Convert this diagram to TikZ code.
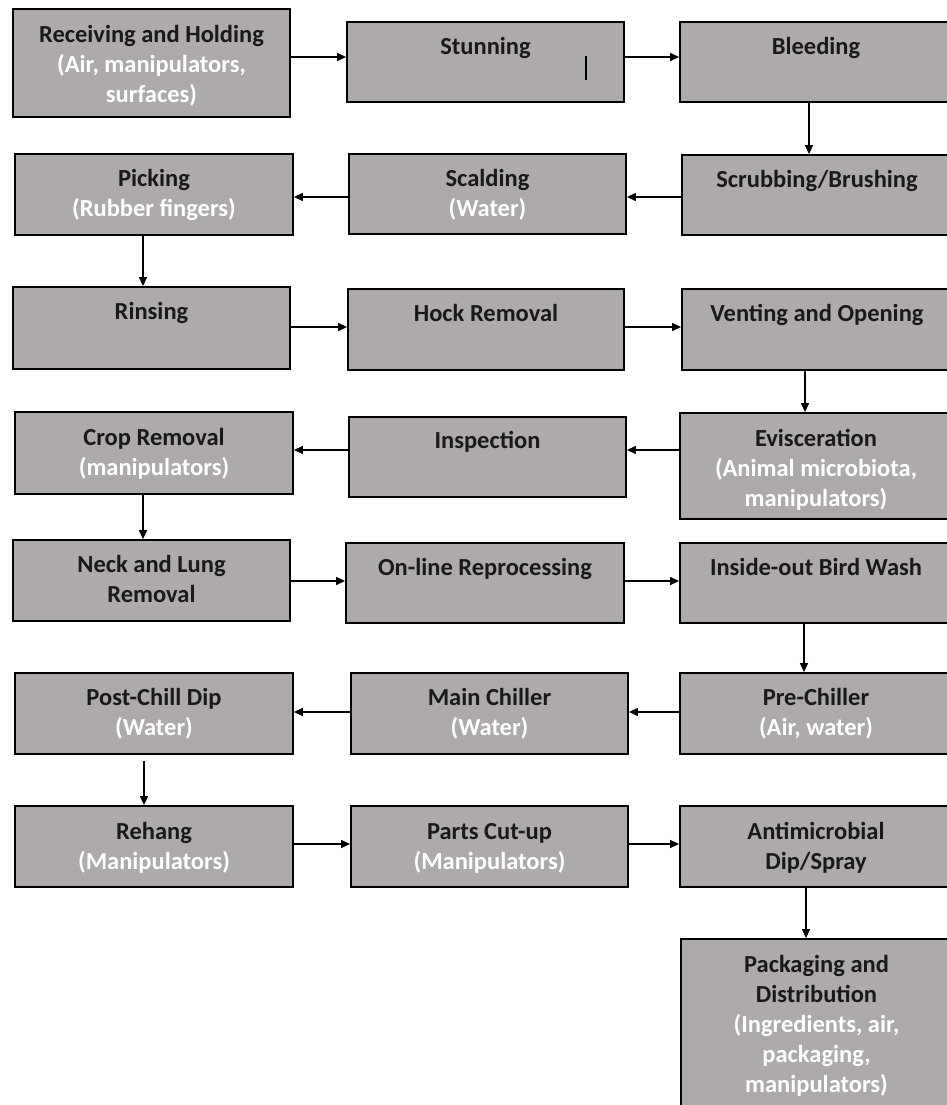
\documentclass[tikz,border=0pt]{standalone}
\usepackage{fontspec}
\setmainfont{Carlito}
\usetikzlibrary{arrows.meta,fit}
\definecolor{boxgray}{RGB}{173,170,169}
\newcommand\wh[1]{\textcolor{white}{#1}}
\begin{document}
\begin{tikzpicture}[x=1pt,y=-1pt,
 stepbox/.style={draw=black, line width=1.8pt, fill=boxgray, inner sep=0pt},
 txt/.style={anchor=base, align=center, font=\fontsize{24.5}{30}\selectfont\bfseries, text=black!90, inner sep=0pt},
 arr/.style={line width=1.3pt, -{Triangle[length=9pt,width=8pt]}}]
\clip (0,0) rectangle (947,1105);
\fill[white] (0,0) rectangle (947,1105);
% row 1
\node[stepbox, fit={(13,9) (290,117)}] (recv) {};
\node[stepbox, fit={(347,22) (624,102)}] (stun) {};
\node[stepbox, fit={(680,22) (952,102)}] (bleed) {};
% row 2
\node[stepbox, fit={(15,154) (293,235)}] (pick) {};
\node[stepbox, fit={(349,154) (626,234)}] (scald) {};
\node[stepbox, fit={(682,155) (952,235)}] (scrub) {};
% row 3
\node[stepbox, fit={(13,287) (290,369)}] (rinse) {};
\node[stepbox, fit={(348,289) (624,370)}] (hock) {};
\node[stepbox, fit={(682,289) (952,370)}] (vent) {};
% row 4
\node[stepbox, fit={(15,412) (293,494)}] (crop) {};
\node[stepbox, fit={(349,417) (626,497)}] (insp) {};
\node[stepbox, fit={(680,413) (952,519)}] (evis) {};
% row 5
\node[stepbox, fit={(13,540) (290,621)}] (neck) {};
\node[stepbox, fit={(346,543) (624,623)}] (online) {};
\node[stepbox, fit={(680,543) (952,623)}] (wash) {};
% row 6
\node[stepbox, fit={(15,673) (293,754)}] (post) {};
\node[stepbox, fit={(351,673) (628,754)}] (main) {};
\node[stepbox, fit={(680,673) (952,754)}] (pre) {};
% row 7
\node[stepbox, fit={(15,806) (293,887)}] (rehang) {};
\node[stepbox, fit={(351,806) (628,887)}] (parts) {};
\node[stepbox, fit={(680,806) (952,887)}] (anti) {};
% row 8
\node[stepbox, fit={(681,939) (952,1130)}] (pack) {};
% stray mark in Stunning box
\draw[line width=1.3pt] (586,56) -- (586,80);
% texts (anchor=base is the baseline of the last line)
\node[txt] (recvT) at ([yshift=-94pt]recv.north) {Receiving and Holding\\\wh{(Air, manipulators,}\\\wh{surfaces)}};
\node[txt] (stunT) at ([yshift=-33pt]stun.north) {Stunning};
\node[txt] (bleedT) at ([yshift=-33pt]bleed.north) {Bleeding};
\node[txt] (pickT) at ([yshift=-63pt]pick.north) {Picking\\\wh{(Rubber fingers)}};
\node[txt] (scaldT) at ([yshift=-63pt]scald.north) {Scalding\\\wh{(Water)}};
\node[txt] (scrubT) at ([yshift=-33pt]scrub.north) {Scrubbing/Brushing};
\node[txt] (rinseT) at ([yshift=-33pt]rinse.north) {Rinsing};
\node[txt] (hockT) at ([yshift=-33pt]hock.north) {Hock Removal};
\node[txt] (ventT) at ([yshift=-33pt]vent.north) {Venting and Opening};
\node[txt] (cropT) at ([yshift=-64pt]crop.north) {Crop Removal\\\wh{(manipulators)}};
\node[txt] (inspT) at ([yshift=-32pt]insp.north) {Inspection};
\node[txt] (evisT) at ([yshift=-94pt]evis.north) {Evisceration\\\wh{(Animal microbiota,}\\\wh{manipulators)}};
\node[txt] (neckT) at ([yshift=-63pt]neck.north) {Neck and Lung\\Removal};
\node[txt] (onlineT) at ([yshift=-33pt]online.north) {On-line Reprocessing};
\node[txt] (washT) at ([yshift=-33pt]wash.north) {Inside-out Bird Wash};
\node[txt] (postT) at ([yshift=-63pt]post.north) {Post-Chill Dip\\\wh{(Water)}};
\node[txt] (mainT) at ([yshift=-63pt]main.north) {Main Chiller\\\wh{(Water)}};
\node[txt] (preT) at ([yshift=-63pt]pre.north) {Pre-Chiller\\\wh{(Air, water)}};
\node[txt] (rehangT) at ([yshift=-64pt]rehang.north) {Rehang\\\wh{(Manipulators)}};
\node[txt] (partsT) at ([yshift=-64pt]parts.north) {Parts Cut-up\\\wh{(Manipulators)}};
\node[txt] (antiT) at ([yshift=-64pt]anti.north) {Antimicrobial\\Dip/Spray};
\node[txt] (packT) at ([yshift=-154pt]pack.north) {Packaging and\\Distribution\\\wh{(Ingredients, air,}\\\wh{packaging,}\\\wh{manipulators)}};
% arrow guide coordinates
\coordinate (h1) at (0,57);
\coordinate (h2) at (0,197);
\coordinate (h3) at (0,327);
\coordinate (h4) at (0,450);
\coordinate (h5) at (0,581);
\coordinate (h6) at (0,712);
\coordinate (h7) at (0,844);
\coordinate (vR1) at (809,0);
\coordinate (vL1) at (143,0);
\coordinate (vR2) at (805,0);
\coordinate (vL2) at (143,0);
\coordinate (vR3) at (804,0);
\coordinate (vL3) at (144,0);
\coordinate (vR4) at (806,0);
% horizontal arrows
\draw[arr] (recv.east |- h1) -- (stun.west |- h1);
\draw[arr] (stun.east |- h1) -- (bleed.west |- h1);
\draw[arr] (scrub.west |- h2) -- (scald.east |- h2);
\draw[arr] (scald.west |- h2) -- (pick.east |- h2);
\draw[arr] (rinse.east |- h3) -- (hock.west |- h3);
\draw[arr] (hock.east |- h3) -- (vent.west |- h3);
\draw[arr] (evis.west |- h4) -- (insp.east |- h4);
\draw[arr] (insp.west |- h4) -- (crop.east |- h4);
\draw[arr] (neck.east |- h5) -- (online.west |- h5);
\draw[arr] (online.east |- h5) -- (wash.west |- h5);
\draw[arr] (pre.west |- h6) -- (main.east |- h6);
\draw[arr] (main.west |- h6) -- (post.east |- h6);
\draw[arr] (rehang.east |- h7) -- (parts.west |- h7);
\draw[arr] (parts.east |- h7) -- (anti.west |- h7);
% vertical arrows
\draw[arr] (bleed.south -| vR1) -- (scrub.north -| vR1);
\draw[arr] (pick.south -| vL1) -- (rinse.north -| vL1);
\draw[arr] (vent.south -| vR2) -- (evis.north -| vR2);
\draw[arr] (crop.south -| vL2) -- (neck.north -| vL2);
\draw[arr] (wash.south -| vR3) -- (pre.north -| vR3);
\draw[arr] ([yshift=-6pt]post.south -| vL3) -- (rehang.north -| vL3);
\draw[arr] (anti.south -| vR4) -- (pack.north -| vR4);
\end{tikzpicture}
\end{document}
